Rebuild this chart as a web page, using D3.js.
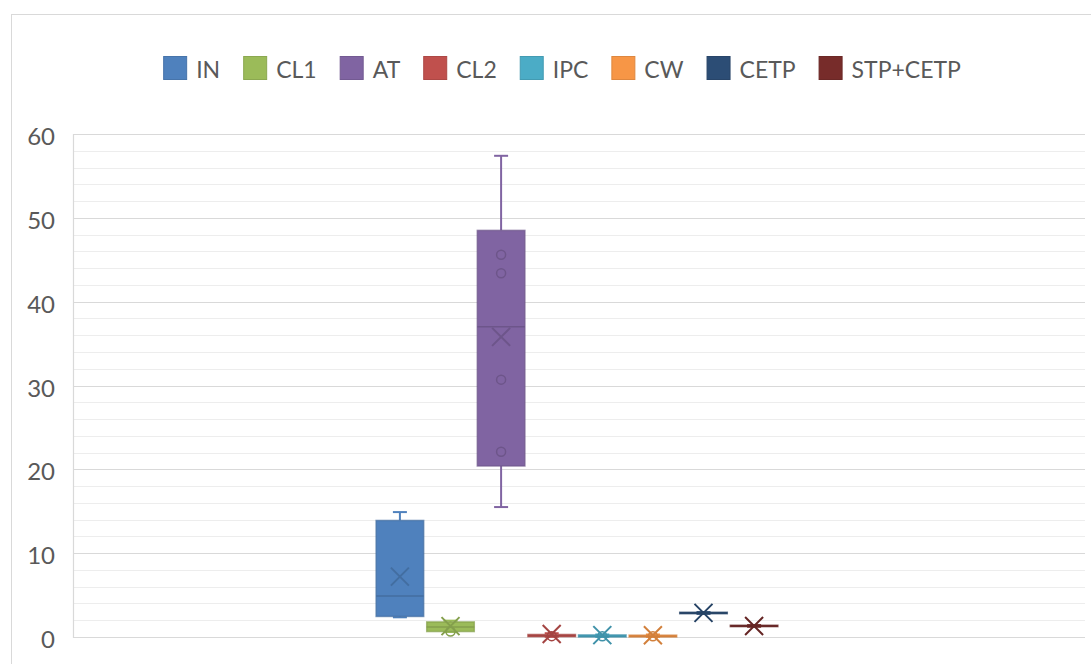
<!DOCTYPE html>
<html>
<head>
<meta charset="utf-8">
<script src="https://cdn.jsdelivr.net/npm/d3@7"></script>
<style>
  body { margin: 0; background: #fff; }
  svg text { font-family: Lato, "Open Sans", sans-serif; fill: #595959; }
</style>
</head>
<body>
<svg id="chart" width="1091" height="664"></svg>
<script>
// Box-plot statistics for each sampling point
const seriesNames  = ["IN", "CL1", "AT", "CL2", "IPC", "CW", "CETP", "STP+CETP"];
const seriesColors = ["#4f81bd", "#9bbb59", "#8064a2", "#c0504d", "#4bacc6", "#f79646", "#2c4d75", "#772c2a"];
const mins    = [2.35, 0.6,  15.5, 0.02, 0.0,  0.0,  2.76, 1.22];
const q1s     = [2.45, 0.65, 20.4, 0.05, 0.0,  0.0,  2.78, 1.24];
const medians = [4.9,  1.2,  37.0, 0.15, 0.1,  0.1,  2.86, 1.31];
const q3s     = [13.9, 1.8,  48.5, 0.3,  0.25, 0.22, 2.95, 1.4];
const maxs    = [14.9, 1.95, 57.4, 0.45, 0.3,  0.3,  2.97, 1.42];
const means   = [7.2,  1.3,  35.8, 0.35, 0.22, 0.2,  2.88, 1.32];
const innerPoints = [[], [0.65], [45.6, 43.4, 30.7, 22.1], [0.1], [0.08], [0.08], [], []];
const categories = [""];
const yTicks = [0, 10, 20, 30, 40, 50, 60];
const yMinorStep = 2;

const svg = d3.select("#chart");
const plot = { left: 73, right: 1085, top: 134, bottom: 637 };
const fontSize = 23;

// chart frame
svg.append("rect")
  .attr("x", 11.5).attr("y", 14.5)
  .attr("width", 1100).attr("height", 700)
  .attr("fill", "#fff").attr("stroke", "#d9d9d9").attr("stroke-width", 1);

const y = d3.scaleLinear().domain([0, 60]).range([plot.bottom, plot.top]);
const x0 = d3.scaleBand().domain(categories).range([plot.left, plot.right]);
// gap width of 150% between category groups
const groupW = x0.bandwidth() / 2.5;
const groupStart = x0(categories[0]) + (x0.bandwidth() - groupW) / 2 - 2;
const x1 = d3.scaleBand().domain(seriesNames)
  .range([groupStart, groupStart + groupW]).paddingInner(0.06).paddingOuter(0.03);

// minor gridlines
const minorTicks = d3.range(0, 60 + 0.001, yMinorStep).filter(v => v % 10 !== 0);
svg.append("g").selectAll("line").data(minorTicks).join("line")
  .attr("x1", plot.left).attr("x2", plot.right)
  .attr("y1", d => Math.round(y(d)) + 0.5).attr("y2", d => Math.round(y(d)) + 0.5)
  .attr("stroke", "#ededed").attr("stroke-width", 1);

// major gridlines
svg.append("g").selectAll("line").data(yTicks).join("line")
  .attr("x1", plot.left).attr("x2", plot.right)
  .attr("y1", d => Math.round(y(d)) + 0.5).attr("y2", d => Math.round(y(d)) + 0.5)
  .attr("stroke", "#d9d9d9").attr("stroke-width", 1.2);

// value axis line
svg.append("line")
  .attr("x1", plot.left + 0.5).attr("x2", plot.left + 0.5)
  .attr("y1", plot.top).attr("y2", plot.bottom + 1)
  .attr("stroke", "#d9d9d9").attr("stroke-width", 1.2);

// y tick labels
const yAxis = d3.axisLeft(y).tickValues(yTicks).tickSize(0).tickPadding(18).tickFormat(d3.format("d"));
const gy = svg.append("g").attr("transform", `translate(${plot.left},0)`).call(yAxis);
gy.select(".domain").remove();
gy.selectAll("text")
  .attr("font-size", 24).attr("fill", "#595959")
  .attr("dy", null).attr("dominant-baseline", "auto")
  .attr("transform", "translate(0,10.5)")
  .style("font-family", "Lato, 'Open Sans', sans-serif");

// boxes
const boxes = seriesNames.map((name, i) => ({
  name, color: seriesColors[i], min: mins[i], q1: q1s[i], median: medians[i],
  q3: q3s[i], max: maxs[i], mean: means[i], points: innerPoints[i]
}));

const capW = 14, xSize = 9;
const g = svg.append("g");
boxes.forEach(b => {
  const cx = x1(b.name) + x1.bandwidth() / 2;
  const bw = x1.bandwidth();
  const dark = d3.color(b.color).darker(0.45).formatHex();
  const gg = g.append("g");
  // whiskers
  gg.append("line").attr("x1", cx).attr("x2", cx).attr("y1", y(b.q3)).attr("y2", y(b.max))
    .attr("stroke", b.color).attr("stroke-width", 2);
  gg.append("line").attr("x1", cx).attr("x2", cx).attr("y1", y(b.q1)).attr("y2", y(b.min))
    .attr("stroke", b.color).attr("stroke-width", 2);
  gg.append("line").attr("x1", cx - capW / 2).attr("x2", cx + capW / 2).attr("y1", y(b.max)).attr("y2", y(b.max))
    .attr("stroke", b.color).attr("stroke-width", 2);
  gg.append("line").attr("x1", cx - capW / 2).attr("x2", cx + capW / 2).attr("y1", y(b.min)).attr("y2", y(b.min))
    .attr("stroke", b.color).attr("stroke-width", 2);
  // box
  gg.append("rect")
    .attr("x", cx - bw / 2).attr("width", bw)
    .attr("y", y(b.q3)).attr("height", Math.max(1, y(b.q1) - y(b.q3)))
    .attr("fill", b.color).attr("stroke", dark).attr("stroke-width", 1.5)
    .attr("stroke-opacity", 0.7);
  // median
  gg.append("line").attr("x1", cx - bw / 2).attr("x2", cx + bw / 2)
    .attr("y1", y(b.median)).attr("y2", y(b.median))
    .attr("stroke", dark).attr("stroke-width", 1.5);
  // inner points
  gg.selectAll("circle").data(b.points).join("circle")
    .attr("cx", cx).attr("cy", d => y(d)).attr("r", 4.5)
    .attr("fill", "none").attr("stroke", dark).attr("stroke-width", 1.5);
  // mean marker
  const my = y(b.mean);
  gg.append("path")
    .attr("d", `M${cx - xSize},${my - xSize}L${cx + xSize},${my + xSize}M${cx - xSize},${my + xSize}L${cx + xSize},${my - xSize}`)
    .attr("stroke", dark).attr("stroke-width", 2).attr("fill", "none");
});

// legend
const legend = svg.append("g");
const keyS = 23, keyGap = 10, itemGap = 23;
const items = [];
seriesNames.forEach((name, i) => {
  const it = legend.append("g");
  it.append("rect").attr("x", 0.5).attr("y", 56.5).attr("width", keyS).attr("height", keyS)
    .attr("fill", seriesColors[i]).attr("stroke", d3.color(seriesColors[i]).darker(0.3)).attr("stroke-width", 1);
  const t = it.append("text").attr("x", keyS + keyGap).attr("y", 78).attr("font-size", fontSize).text(name);
  const w = keyS + keyGap + t.node().getComputedTextLength();
  items.push({ it, w });
});
const totalW = d3.sum(items, d => d.w) + itemGap * (items.length - 1);
let lx = 562 - totalW / 2;
items.forEach(d => {
  d.it.attr("transform", `translate(${lx},0)`);
  lx += d.w + itemGap;
});
</script>
</body>
</html>
